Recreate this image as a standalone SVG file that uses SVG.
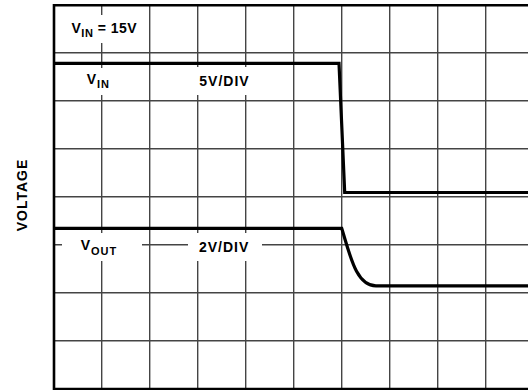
<svg xmlns="http://www.w3.org/2000/svg" width="528" height="390" viewBox="0 0 528 390">
  <style>
    .grid line { stroke: #444; stroke-width: 1.4; }
    .mask { fill: #fff; }
    .border { fill: none; stroke: #000; stroke-width: 2.6; }
    .trace { fill: none; stroke: #000; stroke-width: 3.2; stroke-linejoin: miter; }
    .lbl { font-family: "Liberation Sans", Arial, Helvetica, sans-serif; font-weight: bold; font-size: 14px; fill: #000; letter-spacing: 1px; }
    .sub { font-size: 11px; }
  </style>
  <rect width="528" height="390" fill="#fff"/>
  <g id="grid" class="grid">
    <line x1="101.7" y1="5" x2="101.7" y2="389"/>
    <line x1="149.7" y1="5" x2="149.7" y2="389"/>
    <line x1="197.7" y1="5" x2="197.7" y2="389"/>
    <line x1="245.7" y1="5" x2="245.7" y2="389"/>
    <line x1="293.7" y1="5" x2="293.7" y2="389"/>
    <line x1="341.7" y1="5" x2="341.7" y2="389"/>
    <line x1="389.7" y1="5" x2="389.7" y2="389"/>
    <line x1="437.7" y1="5" x2="437.7" y2="389"/>
    <line x1="485.7" y1="5" x2="485.7" y2="389"/>
    <line x1="54" y1="52.8" x2="528" y2="52.8"/>
    <line x1="54" y1="100.8" x2="528" y2="100.8"/>
    <line x1="54" y1="148.8" x2="528" y2="148.8"/>
    <line x1="54" y1="196.8" x2="528" y2="196.8"/>
    <line x1="54" y1="244.8" x2="528" y2="244.8"/>
    <line x1="54" y1="292.8" x2="528" y2="292.8"/>
    <line x1="54" y1="340.8" x2="528" y2="340.8"/>
  </g>
  <g id="label-masks">
    <rect class="mask" x="62" y="15" width="80" height="28"/>
    <rect class="mask" x="62" y="68" width="80" height="27"/>
    <rect class="mask" x="188" y="67" width="74" height="28"/>
    <rect class="mask" x="62" y="233" width="80" height="28"/>
    <rect class="mask" x="188" y="233" width="74" height="28"/>
  </g>
  <g id="frame">
    <path class="border" d="M528,5.3 H54 V389 H528"/>
  </g>
  <g id="traces">
    <path id="vin-trace" class="trace" d="M54,63.3 H339 L344.7,192.5 H528"/>
    <path id="vout-trace" class="trace" d="M54,228.3 H341.7 C350,255 356,285.8 376,285.8 H528"/>
  </g>
  <g id="labels">
    <text id="vin-15v" class="lbl" x="71.5" y="33" style="letter-spacing:0.5px">V<tspan class="sub" dy="4">IN</tspan><tspan dy="-4"> = 15V</tspan></text>
    <text id="vin-label" class="lbl" x="86.7" y="84">V<tspan class="sub" dy="4">IN</tspan></text>
    <text id="vin-scale" class="lbl" x="199.3" y="86">5V/DIV</text>
    <text id="vout-label" class="lbl" x="80.7" y="250">V<tspan class="sub" dy="5">OUT</tspan></text>
    <text id="vout-scale" class="lbl" x="199" y="252.3">2V/DIV</text>
    <text id="y-axis" class="lbl" text-anchor="middle" transform="translate(27,195) rotate(-90)">VOLTAGE</text>
  </g>
</svg>
